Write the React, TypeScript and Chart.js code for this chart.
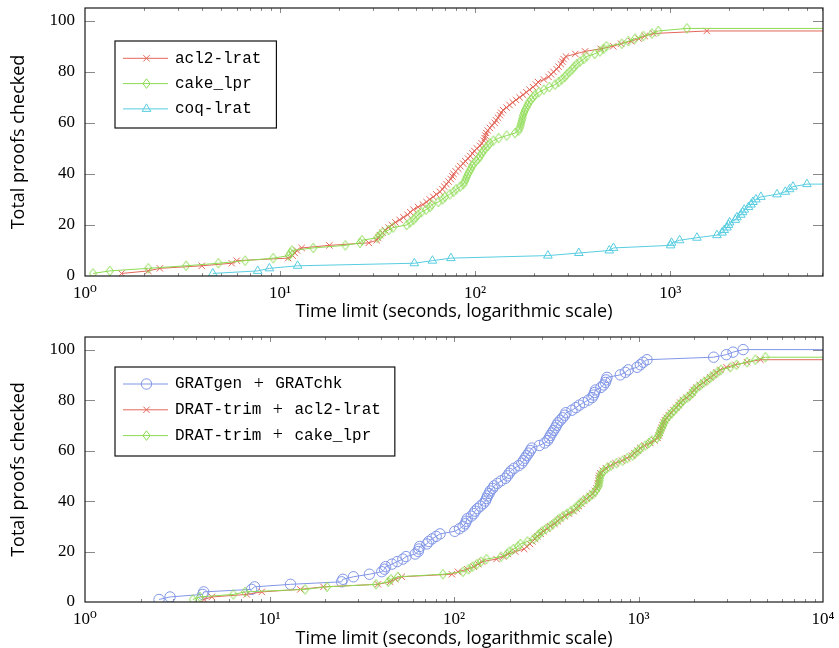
import React, { useEffect, useRef } from "react";
import { Chart, registerables } from "chart.js";

Chart.register(...registerables);

// ---------- shared axis data ----------
const X_TITLE = "Time limit (seconds, logarithmic scale)";
const Y_TITLE = "Total proofs checked";
const Y_TICKS = [0, 20, 40, 60, 80, 100];
const Y_MAX = 105;
const X_DECADES = [1, 10, 100, 1000, 10000];
const X_DECADE_LABELS = ["10⁰", "10¹", "10²", "10³", "10⁴"];

// ---------- top chart ----------
const TOP_LABELS = ["acl2-lrat", "cake_lpr", "coq-lrat"];
const TOP_X_MAX = 6070;
// time (s) at which the n-th proof was checked (n = index + 1)
const TOP_ACL2_TIMES = [
  1.54, 2.11, 2.42, 3.97, 5.65, 6.0, 11.0, 11.6, 11.9, 12.2,
  12.9, 17.9, 28.5, 31.3, 31.8, 32.5, 33.5, 34.5, 36, 37.4,
  39, 41, 42.9, 45, 46.5, 48.3, 51, 54, 56.3, 58.5,
  61, 63.3, 66, 68, 69.5, 71.3, 73, 75, 76.5, 77.5,
  79.5, 82, 84, 87, 89, 92, 94.4, 97, 99, 102,
  106, 108, 111, 112, 113, 114, 116, 119, 122, 126,
  128, 131, 134, 136, 139, 145, 150, 156, 162, 169,
  176, 183, 190, 198, 205, 210, 225, 238, 245, 252,
  262, 268, 275, 280, 284, 292, 326, 366, 440, 510,
  560, 630, 690, 740, 818, 1540,
];
const TOP_CAKE_TIMES = [
  1.1, 1.34, 2.11, 3.3, 4.83, 6.62, 9.23, 11.1, 11.3, 11.5,
  14.8, 21.6, 25.7, 26.3, 31.5, 32.5, 33.5, 36, 38, 44.6,
  46.4, 48.3, 49.5, 51, 53, 56, 58.6, 60, 64.8, 68,
  70, 74, 77.5, 80, 83.8, 87, 88.5, 89.5, 90.6, 92,
  93.5, 95, 96.5, 98, 101, 104, 106, 108, 110, 113,
  116, 119, 124, 132, 145, 160, 167, 169, 171, 172,
  173.5, 175, 176, 178, 180, 183, 186, 188, 193, 198,
  203, 212, 225, 240, 257, 268, 278, 288, 295, 305,
  315, 322, 332, 345, 360, 373, 410, 436, 455, 471,
  564, 610, 660, 728, 806, 869, 1218,
];
const TOP_COQ_TIMES = [
  4.52, 7.68, 8.82, 12.3, 48.8, 60.4, 75.1, 236, 340, 487,
  512, 1005, 1015, 1117, 1371, 1735, 1842, 1892, 1953, 1990,
  2015, 2155, 2198, 2300, 2350, 2396, 2521, 2596, 2656, 2750,
  2916, 3527, 3890, 4093, 4260, 5020,
];

// ---------- bottom chart ----------
const BOTTOM_LABELS = ["GRATgen + GRATchk", "DRAT-trim + acl2-lrat", "DRAT-trim + cake_lpr"];
const BOTTOM_X_MAX = 10000;
const BOT_GRAT_TIMES = [
  2.52, 2.89, 4.35, 4.4, 8.0, 8.3, 13.0, 24.6, 25.0, 28.5,
  34.8, 40.6, 42.0, 42.6, 46.1, 49.2, 52.8, 55, 61.6, 64.0,
  64.5, 65.2, 71.3, 73, 76.1, 80, 84, 101, 107, 112,
  115, 116.5, 118, 124, 128, 130, 134, 139, 144, 148,
  150, 152, 155, 157, 162, 165, 172, 180, 190, 195,
  199, 204, 212, 224, 233, 238, 243, 248, 254, 259,
  264, 290, 310, 322, 328, 333, 340, 347, 354, 360,
  366, 377, 388, 398, 404, 436, 458, 478, 504, 535,
  560, 571, 578, 585, 625, 647, 661, 668, 675, 797,
  848, 880, 982, 1023, 1060, 1112, 2555, 2994, 3253, 3690,
];
const BOT_ACL2_TIMES = [
  4.42, 4.87, 7.53, 9.08, 14.7, 19.6, 38.7, 45.1, 48, 52.1,
  97.4, 105, 118, 128, 135, 142, 170, 185, 196, 215,
  240, 248, 258, 266, 275, 283, 295, 305, 320, 332,
  350, 365, 377, 398, 420, 445, 462, 475, 490, 504,
  522, 545, 565, 580, 592, 600, 603, 606, 609, 612,
  620, 640, 665, 703, 751, 814, 866, 922, 950, 990,
  1023, 1080, 1159, 1220, 1270, 1290, 1305, 1318, 1330, 1350,
  1366, 1390, 1420, 1460, 1500, 1549, 1600, 1650, 1683, 1740,
  1826, 1900, 1960, 1990, 2067, 2150, 2254, 2350, 2450, 2555,
  2650, 2777, 3000, 3350, 3874, 4580,
];
const BOT_CAKE_TIMES = [
  3.84, 4.2, 6.37, 7.38, 15.6, 20.5, 37.8, 44, 45.5, 49.6,
  87.1, 112, 120, 126, 133, 140, 150, 180, 194, 200,
  210, 222, 229, 250, 270, 282, 290, 300, 315, 332,
  345, 360, 372, 390, 410, 430, 450, 468, 481, 500,
  525, 547, 571, 585, 596, 608, 612, 615, 618, 621,
  630, 650, 675, 710, 760, 820, 870, 930, 960, 1000,
  1030, 1090, 1140, 1180, 1260, 1285, 1300, 1313, 1340, 1360,
  1375, 1397, 1430, 1470, 1520, 1560, 1610, 1660, 1700, 1760,
  1840, 1910, 1970, 2000, 2080, 2170, 2260, 2370, 2460, 2560,
  2680, 2800, 3148, 3400, 3874, 4300, 4875,
];

// ---------- styling ----------
const RED = "#e3675a";
const GREEN = "#8cdb52";
const CYAN = "#58cde0";
const BLUE = "#8196e6";
const SERIF = '"Liberation Serif", "DejaVu Serif", serif';
const SANS = '"Open Sans", Lato, sans-serif';
const MONO = '"Liberation Mono", "DejaVu Sans Mono", monospace';

type Marker = "cross" | "diamond" | "triangle" | "circle";
interface Series {
  label: string;
  times: number[];
  color: string;
  marker: Marker;
  radius: number;
}

const DIAMOND_RX = 3.6;
const DIAMOND_RY = 4.8;

function diamondImage(color: string): HTMLCanvasElement {
  const c = document.createElement("canvas");
  const w = Math.ceil(DIAMOND_RX * 2 + 2);
  const h = Math.ceil(DIAMOND_RY * 2 + 2);
  c.width = w;
  c.height = h;
  const g = c.getContext("2d") as CanvasRenderingContext2D;
  g.strokeStyle = color;
  g.lineWidth = 1;
  g.beginPath();
  g.moveTo(w / 2, h / 2 - DIAMOND_RY);
  g.lineTo(w / 2 + DIAMOND_RX, h / 2);
  g.lineTo(w / 2, h / 2 + DIAMOND_RY);
  g.lineTo(w / 2 - DIAMOND_RX, h / 2);
  g.closePath();
  g.stroke();
  return c;
}

function chartPointStyle(s: Series): any {
  if (s.marker === "diamond") return diamondImage(s.color);
  if (s.marker === "cross") return "crossRot";
  return s.marker;
}

function drawMarker(ctx: CanvasRenderingContext2D, m: Marker, x: number, y: number, r: number) {
  ctx.beginPath();
  if (m === "cross") {
    const d = r * Math.SQRT1_2;
    ctx.moveTo(x - d, y - d);
    ctx.lineTo(x + d, y + d);
    ctx.moveTo(x - d, y + d);
    ctx.lineTo(x + d, y - d);
  } else if (m === "diamond") {
    ctx.moveTo(x - DIAMOND_RX, y);
    ctx.lineTo(x, y - DIAMOND_RY);
    ctx.lineTo(x + DIAMOND_RX, y);
    ctx.lineTo(x, y + DIAMOND_RY);
    ctx.closePath();
  } else if (m === "triangle") {
    for (let k = 0; k < 3; k++) {
      const a = (k * 2 * Math.PI) / 3;
      const px = x + Math.sin(a) * r;
      const py = y - Math.cos(a) * r;
      if (k === 0) ctx.moveTo(px, py);
      else ctx.lineTo(px, py);
    }
    ctx.closePath();
  } else {
    ctx.arc(x, y, r, 0, Math.PI * 2);
  }
  ctx.stroke();
}

const frameTicksPlugin = {
  id: "frameTicks",
  beforeDatasetsDraw(chart: any) {
    const { ctx, chartArea: a, scales } = chart;
    const x = scales.x;
    const y = scales.y;
    ctx.save();
    ctx.strokeStyle = "#8a8a8a";
    ctx.lineWidth = 1;
    ctx.beginPath();
    for (const dec of X_DECADES) {
      for (let m = 1; m <= 9; m++) {
        const v = m * dec;
        if (v <= x.min || v >= x.max) continue;
        const px = Math.round(x.getPixelForValue(v)) + 0.5;
        const len = m === 1 ? 5 : 3;
        ctx.moveTo(px, a.bottom);
        ctx.lineTo(px, a.bottom - len);
        ctx.moveTo(px, a.top);
        ctx.lineTo(px, a.top + len);
      }
    }
    for (const v of Y_TICKS) {
      if (v <= y.min || v >= y.max) continue;
      const py = Math.round(y.getPixelForValue(v)) + 0.5;
      ctx.moveTo(a.left, py);
      ctx.lineTo(a.left + 10, py);
      ctx.moveTo(a.right, py);
      ctx.lineTo(a.right - 10, py);
    }
    ctx.stroke();
    ctx.restore();
  },
  afterDatasetsDraw(chart: any) {
    const { ctx, chartArea: a } = chart;
    ctx.save();
    ctx.strokeStyle = "#1a1a1a";
    ctx.lineWidth = 1.2;
    ctx.strokeRect(a.left, a.top, a.right - a.left, a.bottom - a.top);
    ctx.restore();
  },
};

const boxLegendPlugin = {
  id: "boxLegend",
  afterDraw(chart: any, _args: any, opts: any) {
    const series: Series[] = opts.series;
    if (!series) return;
    const { ctx, chartArea: a } = chart;
    ctx.save();
    const monoFont = `16px ${MONO}`;
    const plusFont = `18px ${SERIF}`;
    const plusGap = 33;
    const widthOf = (label: string) => {
      const parts = label.split(" + ");
      ctx.font = monoFont;
      let w = 0;
      parts.forEach((p, i) => {
        w += ctx.measureText(p).width;
        if (i < parts.length - 1) w += plusGap;
      });
      return w;
    };
    const textW = Math.max(...series.map((s) => widthOf(s.label)));
    const bx = a.left + opts.x;
    const by = a.top + opts.y;
    const bw = 60 + textW + opts.padRight;
    const bh = opts.height;
    ctx.fillStyle = "#ffffff";
    ctx.fillRect(bx, by, bw, bh);
    ctx.strokeStyle = "#111";
    ctx.lineWidth = 1.2;
    ctx.strokeRect(bx, by, bw, bh);
    series.forEach((s, i) => {
      const ry = by + opts.firstRow + i * opts.rowGap;
      ctx.strokeStyle = s.color;
      ctx.lineWidth = 1;
      ctx.beginPath();
      ctx.moveTo(bx + 8, ry);
      ctx.lineTo(bx + 53, ry);
      ctx.stroke();
      drawMarker(ctx, s.marker, bx + 31.5, ry, s.radius);
      ctx.fillStyle = "#000";
      ctx.textBaseline = "middle";
      ctx.textAlign = "left";
      let tx = bx + 60;
      const parts = s.label.split(" + ");
      parts.forEach((p, k) => {
        ctx.font = monoFont;
        ctx.fillText(p, tx, ry);
        tx += ctx.measureText(p).width;
        if (k < parts.length - 1) {
          ctx.font = plusFont;
          ctx.textAlign = "center";
          ctx.fillText("+", tx + plusGap / 2, ry);
          ctx.textAlign = "left";
          tx += plusGap;
        }
      });
    });
    ctx.restore();
  },
};

interface Layout {
  top: number;
  xAxisHeight: number;
  xTitlePad: number;
  legend: { x: number; y: number; height: number; firstRow: number; rowGap: number; padRight: number };
}

function makeConfig(series: Series[], xMax: number, layout: Layout): any {
  const datasets = series.map((s, idx) => {
    const n = s.times.length;
    const data = s.times.map((t, i) => ({ x: t, y: i + 1 }));
    data.push({ x: xMax, y: n }); // carries the final count to the time limit
    return {
      label: s.label,
      data,
      order: -idx,
      borderColor: s.color,
      backgroundColor: s.color,
      borderWidth: 1,
      tension: 0,
      fill: false,
      pointStyle: chartPointStyle(s),
      pointRadius: (c: any) => (c.dataIndex === n ? 0 : s.radius),
      pointHoverRadius: 0,
      pointBorderColor: s.color,
      pointBackgroundColor: "rgba(0,0,0,0)",
      pointBorderWidth: 1,
    };
  });
  return {
    type: "line",
    data: { datasets },
    plugins: [frameTicksPlugin, boxLegendPlugin],
    options: {
      responsive: false,
      animation: false,
      events: [],
      layout: { padding: { top: layout.top, right: 16, bottom: 0, left: 0 } },
      plugins: {
        legend: { display: false },
        tooltip: { enabled: false },
        boxLegend: { series, ...layout.legend },
      },
      scales: {
        x: {
          type: "logarithmic",
          min: 1,
          max: xMax,
          grid: { display: false, drawTicks: false },
          border: { display: false },
          afterBuildTicks: (sc: any) => {
            sc.ticks = X_DECADES.filter((v) => v >= sc.min && v <= sc.max).map((v) => ({ value: v }));
          },
          afterFit: (sc: any) => {
            sc.height = layout.xAxisHeight;
            sc.paddingLeft = 0;
            sc.paddingRight = 0;
          },
          ticks: {
            autoSkip: false,
            maxRotation: 0,
            minRotation: 0,
            padding: 7,
            color: "#000",
            font: { family: SERIF, size: 17 },
            callback: (v: number) => {
              const k = X_DECADES.indexOf(v);
              return k >= 0 ? X_DECADE_LABELS[k] : "";
            },
          },
          title: {
            display: true,
            text: X_TITLE,
            color: "#000",
            font: { family: SANS, size: 18, lineHeight: 1 },
            padding: { top: 0, bottom: layout.xTitlePad },
          },
        },
        y: {
          type: "linear",
          min: 0,
          max: Y_MAX,
          grid: { display: false, drawTicks: false },
          border: { display: false },
          afterBuildTicks: (sc: any) => {
            sc.ticks = Y_TICKS.map((v) => ({ value: v }));
          },
          afterFit: (sc: any) => {
            sc.width = 85;
            sc.paddingTop = 0;
            sc.paddingBottom = 0;
          },
          ticks: {
            padding: 10,
            color: "#000",
            font: { family: SERIF, size: 17 },
          },
          title: {
            display: true,
            text: Y_TITLE,
            color: "#000",
            font: { family: SANS, size: 18, lineHeight: 1 },
            padding: { top: 9.5, bottom: 0 },
          },
        },
      },
    },
  };
}

const TOP_SERIES: Series[] = [
  { label: TOP_LABELS[0], times: TOP_ACL2_TIMES, color: RED, marker: "cross", radius: 4.5 },
  { label: TOP_LABELS[1], times: TOP_CAKE_TIMES, color: GREEN, marker: "diamond", radius: 5 },
  { label: TOP_LABELS[2], times: TOP_COQ_TIMES, color: CYAN, marker: "triangle", radius: 5 },
];
const BOTTOM_SERIES: Series[] = [
  { label: BOTTOM_LABELS[0], times: BOT_GRAT_TIMES, color: BLUE, marker: "circle", radius: 5.2 },
  { label: BOTTOM_LABELS[1], times: BOT_ACL2_TIMES, color: RED, marker: "cross", radius: 4.5 },
  { label: BOTTOM_LABELS[2], times: BOT_CAKE_TIMES, color: GREEN, marker: "diamond", radius: 5 },
];

export default function App() {
  const topRef = useRef<HTMLCanvasElement>(null);
  const botRef = useRef<HTMLCanvasElement>(null);
  useEffect(() => {
    const c1 = new Chart(
      topRef.current as HTMLCanvasElement,
      makeConfig(TOP_SERIES, TOP_X_MAX, {
        top: 8,
        xAxisHeight: 49,
        xTitlePad: 4,
        legend: { x: 30, y: 33, height: 87, firstRow: 17.3, rowGap: 25.3, padRight: 15 },
      })
    );
    const c2 = new Chart(
      botRef.current as HTMLCanvasElement,
      makeConfig(BOTTOM_SERIES, BOTTOM_X_MAX, {
        top: 12,
        xAxisHeight: 46,
        xTitlePad: 0,
        legend: { x: 30, y: 30, height: 89, firstRow: 17, rowGap: 25.8, padRight: 14 },
      })
    );
    return () => {
      c1.destroy();
      c2.destroy();
    };
  }, []);
  return (
    <div
      style={{
        position: "absolute",
        left: 0,
        top: 0,
        width: 839,
        height: 648,
        background: "#fff",
        overflow: "hidden",
      }}
    >
      <canvas
        ref={topRef}
        width={839}
        height={325}
        style={{ position: "absolute", left: 0, top: 0, width: 839, height: 325 }}
      />
      <canvas
        ref={botRef}
        width={839}
        height={323}
        style={{ position: "absolute", left: 0, top: 325, width: 839, height: 323 }}
      />
    </div>
  );
}
